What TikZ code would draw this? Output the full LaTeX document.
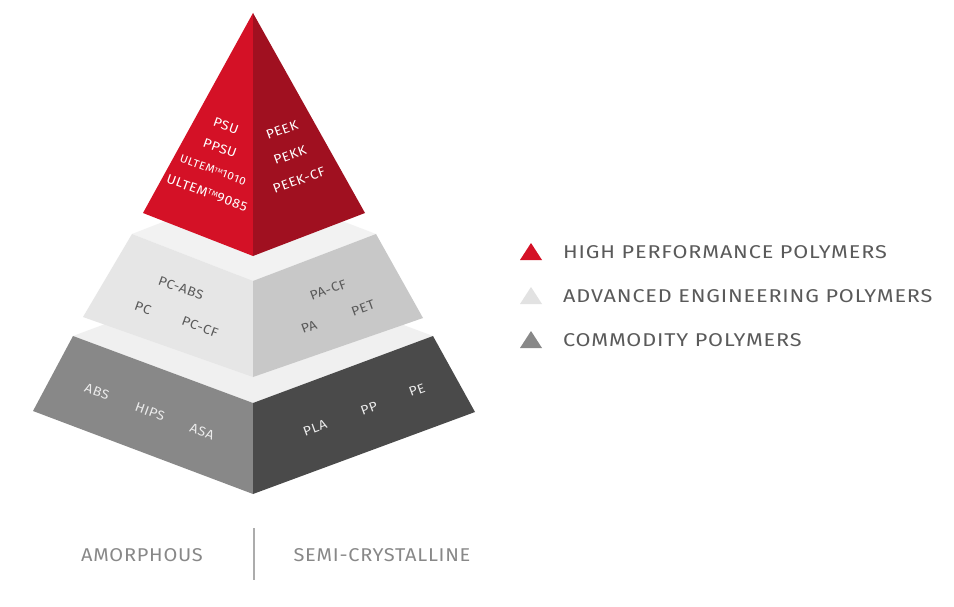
\documentclass[tikz,border=0pt]{standalone}
\usepackage{fontspec}
\setmainfont{Fira Sans}
\newfontfamily\labfont{Fira Sans}[FakeStretch=1.08,LetterSpace=4]
\newfontfamily\legfont{Fira Sans}[FakeStretch=1.17,LetterSpace=4.5]
\definecolor{redL}{HTML}{D41126}
\definecolor{redR}{HTML}{A01020}
\definecolor{midL}{HTML}{E6E6E6}
\definecolor{midR}{HTML}{C8C8C8}
\definecolor{midT}{HTML}{F2F2F2}
\definecolor{botL}{HTML}{888888}
\definecolor{botR}{HTML}{4A4A4A}
\definecolor{botT}{HTML}{F0F0F0}
\definecolor{legtxt}{HTML}{5A5A5A}
\definecolor{axtxt}{HTML}{888888}
\definecolor{midtxt}{HTML}{5A5A5A}
\definecolor{legmid}{HTML}{E2E2E2}
\tikzset{
  lt/.style={inner sep=0pt, font=\labfont\fontsize{13}{13}\selectfont},
  lface/.style={lt, rotate=-20},
  rface/.style={lt, rotate=20},
  toptxt/.style={text=white},
  midlab/.style={text=midtxt},
  botlab/.style={text=white!92!black},
  legend/.style={anchor=west, inner sep=0pt, text=legtxt, font=\legfont\fontsize{18.5}{18.5}\selectfont},
  axis/.style={inner sep=0pt, text=axtxt, font=\labfont\fontsize{18.5}{18.5}\selectfont},
}
\begin{document}
\begin{tikzpicture}[x=1pt,y=-1pt]
\path[use as bounding box, fill=white] (0,0) rectangle (954,607);
% bottom tier
\fill[botT] (73,336) -- (253,269) -- (433,336) -- (253,403) -- cycle;
\fill[botL] (73,336) -- (253,403) -- (253,494) -- (33,411) -- cycle;
\fill[botR] (253,403) -- (433,336) -- (475,412) -- (253,494) -- cycle;
% middle tier
\fill[midT] (132,234) -- (253,187) -- (376,234) -- (253,281) -- cycle;
\fill[midL] (132,234) -- (253,281) -- (253,377) -- (83,317) -- cycle;
\fill[midR] (253,281) -- (376,234) -- (423,318) -- (253,377) -- cycle;
% top pyramid
\fill[redL] (253,13) -- (143,213) -- (253,256) -- cycle;
\fill[redR] (253,13) -- (253,256) -- (365,213) -- cycle;
% top labels
\node[lface,toptxt] (psu) at (226,126) {PSU};
\node[lface,toptxt] (ppsu) at (220,148) {PPSU};
\node[lface,toptxt,font=\labfont\fontsize{11}{11}\selectfont] (u1010) at (213,170) {ULTEM\raisebox{0.5ex}{\fontsize{6}{6}\selectfont TM}1010};
\node[lface,toptxt] (u9085) at (207,193) {ULTEM\raisebox{0.5ex}{\fontsize{7.5}{7.5}\selectfont TM}9085};
\node[rface,toptxt] (peek) at (282,130) {PEEK};
\node[rface,toptxt] (pekk) at (290,155) {PEKK};
\node[rface,toptxt] (peekcf) at (299,180) {PEEK-CF};
% middle labels
\node[lface,midlab] (pcabs) at (181,288) {PC-ABS};
\node[lface,midlab] (pc) at (143,308) {PC};
\node[lface,midlab] (pccf) at (200,327) {PC-CF};
\node[rface,midlab] (pacf) at (328,290) {PA-CF};
\node[rface,midlab] (pet) at (363,308) {PET};
\node[rface,midlab] (pa) at (309,327) {PA};
% bottom labels
\node[lface,botlab] (abs) at (97,392) {ABS};
\node[lface,botlab] (hips) at (150,412) {HIPS};
\node[lface,botlab] (asa) at (202,432) {ASA};
\node[rface,botlab] (pla) at (315,428) {PLA};
\node[rface,botlab] (pp) at (369,408) {PP};
\node[rface,botlab] (pe) at (417,390) {PE};
% legend
\fill[redL] (520,260) -- (542,260) -- (531,243) -- cycle;
\fill[legmid] (520,304) -- (542,304) -- (531,287) -- cycle;
\fill[botL] (520,348) -- (542,348) -- (531,331) -- cycle;
\node[legend] (l1) at (563,252) {HIGH PERFORMANCE POLYMERS};
\node[legend] (l2) at (563,296) {ADVANCED ENGINEERING POLYMERS};
\node[legend] (l3) at (563,340) {COMMODITY POLYMERS};
% axis labels
\node[axis] (amo) at (142,555) {AMORPHOUS};
\node[axis] (semi) at (382,555) {SEMI-CRYSTALLINE};
\coordinate (vtop) at (254,528);
\coordinate (vbot) at (254,580);
\draw[axtxt!70, line width=1.2pt] (vtop) -- (vbot);
\end{tikzpicture}
\end{document}
